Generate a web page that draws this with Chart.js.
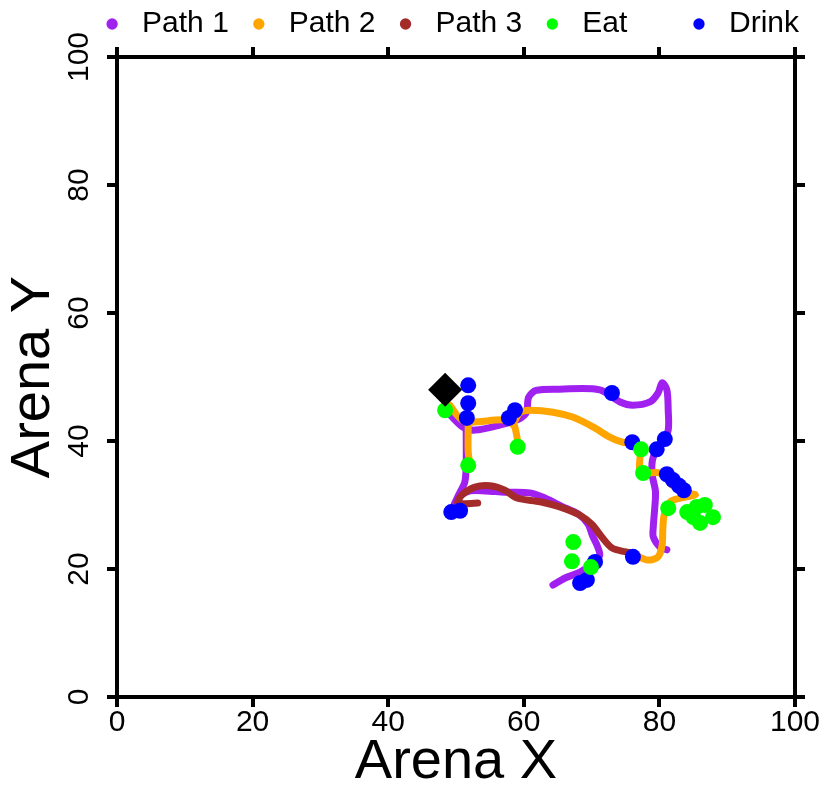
<!DOCTYPE html>
<html>
<head>
<meta charset="utf-8">
<script src="https://cdn.jsdelivr.net/npm/chart.js@4/dist/chart.umd.min.js"></script>
<style>
  html, body { margin: 0; padding: 0; background: #fff; }
  canvas { display: block; }
</style>
</head>
<body>
<canvas id="arena" width="824" height="788"></canvas>
<script>
/* ---------- SERIES ---------- */
const seriesNames = ["Path 1", "Path 2", "Path 3", "Eat", "Drink"];
const seriesColors = ["#A020F0", "#FFA500", "#A52A2A", "#00FF00", "#0000FF"];

const axisTicks = [0, 20, 40, 60, 80, 100];

// path 1 (two stretches of the track)
const path1Upper = [
    [49.1, 44.1], [51.0, 42.2], [52.8, 41.7], [56.5, 42.5], [59.2, 43.4], [60.4, 44.5],
    [60.7, 46.8], [61.8, 47.9], [65.3, 48.1], [71.2, 48.0], [74.2, 46.1], [76.1, 45.6],
    [78.6, 46.1], [79.8, 47.5], [80.4, 49.1], [81.1, 48.0], [81.3, 44.8], [81.3, 41.7],
    [80.4, 39.5], [79.1, 37.5], [78.9, 35.0], [79.4, 32.3], [79.4, 30.8], [79.1, 26.6],
    [79.1, 25.0], [80.1, 23.4], [81.1, 23.0]
];
const path1Lower = [
    [51.5, 42.2], [51.5, 36.2], [51.3, 33.6], [50.5, 31.8], [49.6, 29.8], [50.6, 31.4],
    [52.1, 32.2], [54.3, 32.2], [57.2, 32.0], [60.9, 31.9], [63.1, 31.1], [65.6, 29.8],
    [68.0, 28.6], [69.5, 27.0], [70.1, 25.3], [70.8, 23.7], [71.2, 22.2], [70.5, 21.1],
    [68.3, 19.5], [66.1, 18.6], [64.3, 17.5]
];

// path 2
const path2Start = [
    [49.1, 45.6], [50.1, 44.1], [51.3, 43.0], [53.1, 43.0], [56.9, 43.3], [58.4, 42.8],
    [59.0, 40.6], [59.1, 39.1]
];
const path2Drop = [[51.8, 42.5], [51.8, 38.3], [52.1, 36.2]];
const path2Main = [
    [58.4, 42.5], [59.4, 44.4], [60.9, 44.8], [64.3, 44.5], [67.3, 43.7], [70.2, 42.2],
    [72.7, 40.6], [74.6, 39.8], [76.0, 39.8], [77.1, 38.6], [77.1, 35.5], [77.9, 35.0],
    [80.1, 35.0], [81.9, 33.1], [83.8, 31.9], [85.3, 31.6], [83.3, 31.1], [81.6, 30.5],
    [80.7, 28.4], [80.5, 26.1], [80.4, 23.7], [79.8, 21.9], [78.3, 21.4], [76.4, 22.2]
];

// path 3
const path3 = [
    [53.2, 30.3], [50.3, 30.3], [50.9, 31.6], [52.8, 32.8], [55.0, 33.0], [57.2, 32.3],
    [59.0, 31.1], [62.4, 30.5], [65.3, 29.7], [68.3, 28.4], [70.1, 26.9], [71.5, 25.0],
    [73.0, 23.3], [74.9, 22.7], [76.1, 22.5]
];

// feeding / drinking events
const eatPoints = [
    [48.4, 44.8], [51.8, 36.2], [59.1, 39.1], [77.3, 38.7], [77.6, 35.0], [81.3, 29.5],
    [84.1, 28.9], [85.5, 29.7], [86.7, 30.0], [87.9, 28.1], [86.0, 27.2], [85.0, 28.1],
    [67.3, 24.2], [67.1, 21.2], [69.9, 20.3]
];
const drinkPoints = [
    [51.8, 48.7], [51.8, 45.9], [51.6, 43.6], [58.7, 44.8], [57.8, 43.6], [49.3, 28.9],
    [50.6, 29.1], [73.0, 47.5], [76.0, 39.8], [79.6, 38.7], [80.8, 40.3], [81.1, 34.8],
    [82.0, 33.9], [82.9, 33.0], [83.6, 32.3], [76.1, 21.9], [70.5, 21.1], [68.3, 17.8],
    [69.3, 18.3]
];

const startPoint = [[48.4, 48.0]];

/* ---------- DATASET HELPERS ---------- */
const pts = arr => arr.map(([x, y]) => ({ x, y }));

function pathSet(idx, data, order) {
    return {
        label: seriesNames[idx],
        data: pts(data),
        showLine: true,
        borderColor: seriesColors[idx],
        backgroundColor: seriesColors[idx],
        borderWidth: 7,
        borderCapStyle: "round",
        borderJoinStyle: "round",
        tension: 0.3,
        pointRadius: 0,
        pointHoverRadius: 0,
        order
    };
}

function eventSet(idx, data, order) {
    return {
        label: seriesNames[idx],
        data: pts(data),
        backgroundColor: seriesColors[idx],
        borderColor: seriesColors[idx],
        pointRadius: 8,
        pointBorderWidth: 0,
        order
    };
}

const datasets = [
    pathSet(0, path1Upper, 7),
    pathSet(0, path1Lower, 7),
    pathSet(1, path2Start, 6),
    pathSet(1, path2Drop, 6),
    pathSet(1, path2Main, 6),
    pathSet(2, path3, 5),
    eventSet(4, drinkPoints, 3),
    eventSet(3, eatPoints, 2),
    {
        label: "Start",
        data: pts(startPoint),
        pointStyle: "rectRot",
        pointRadius: 17,
        pointBorderWidth: 0,
        backgroundColor: "#000",
        order: 1
    }
];

/* ---------- AXES ---------- */
const FONT = "'Liberation Sans', Arial, sans-serif";

function axis(position, extra) {
    return Object.assign({
        type: "linear",
        position,
        min: 0,
        max: 100,
        afterBuildTicks: s => { s.ticks = axisTicks.map(v => ({ value: v })); },
        grid: {
            drawOnChartArea: false,
            drawTicks: true,
            tickLength: 10,
            lineWidth: 4,
            color: "#000"
        },
        border: { display: true, color: "#000", width: 4 }
    }, extra);
}

const scales = {
    x: axis("bottom", {
        afterFit: s => { s.height = 91; },
        ticks: { color: "#000", padding: 1, font: { family: FONT, size: 30, lineHeight: 1 } },
        title: {
            display: true, text: "Arena X", color: "#000",
            font: { family: FONT, size: 56, lineHeight: 1 },
            padding: { top: 0, bottom: -3 }
        }
    }),
    y: axis("left", {
        afterFit: s => { s.width = 117; },
        ticks: {
            color: "#000", padding: 2, minRotation: 90, maxRotation: 90, crossAlign: "center",
            font: { family: FONT, size: 30, lineHeight: 1 }
        },
        title: {
            display: true, text: "Arena Y", color: "#000",
            font: { family: FONT, size: 56, lineHeight: 1 },
            padding: { top: 6, bottom: 0 }
        }
    }),
    x2: axis("top", {
        afterFit: s => { s.height = 8; },
        ticks: { display: false }
    }),
    y2: axis("right", {
        afterFit: s => { s.width = 19; },
        ticks: { display: false }
    })
};

/* ---------- CHART ---------- */
new Chart(document.getElementById("arena"), {
    type: "scatter",
    data: { datasets },
    options: {
        responsive: false,
        animation: false,
        events: [],
        layout: { padding: { top: -6, right: 10, bottom: 0, left: 0 } },
        scales,
        plugins: {
            tooltip: { enabled: false },
            legend: {
                position: "top",
                align: "end",
                labels: {
                    color: "#000",
                    font: { family: FONT, size: 30 },
                    usePointStyle: true,
                    boxWidth: 30,
                    boxHeight: 8,
                    padding: 15,
                    generateLabels(chart) {
                        const base = Chart.defaults.plugins.legend.labels.generateLabels(chart);
                        const items = seriesNames.map(name => base.find(it => it.text === name));
                        items.forEach(it => { it.lineWidth = 0; });
                        // wider slot after "Eat" so the columns line up
                        items[3].text = "Eat" + " ".repeat(5);
                        return items;
                    }
                }
            }
        }
    }
});
</script>
</body>
</html>
